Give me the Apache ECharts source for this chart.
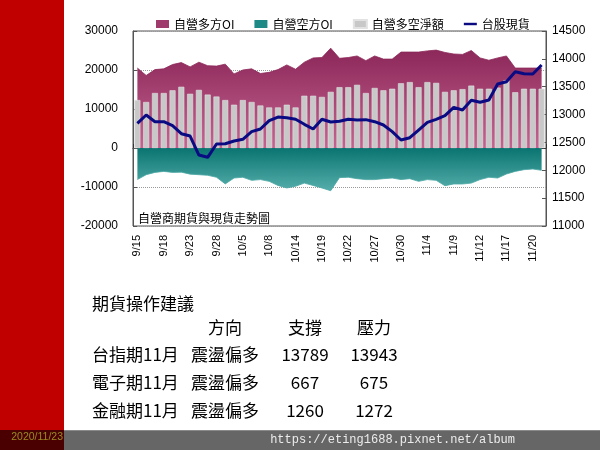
<!DOCTYPE html>
<html>
<head>
<meta charset="utf-8">
<script src="https://cdn.jsdelivr.net/npm/echarts@6/dist/echarts.min.js"></script>
<style>
html,body{margin:0;padding:0;background:#fff;}
#c{width:600px;height:450px;}
</style>
</head>
<body>
<div id="c"></div>
<script>
// ---- data ----
var dates = ['9/15','9/16','9/17','9/18','9/21','9/22','9/23','9/24','9/25','9/28','9/29','9/30',
  '10/5','10/6','10/7','10/8','10/12','10/13','10/14','10/15','10/16','10/19','10/20','10/21','10/22','10/23',
  '10/26','10/27','10/28','10/29','10/30','11/2','11/3','11/4','11/5','11/6','11/9','11/10','11/11','11/12','11/13',
  '11/16','11/17','11/18','11/19','11/20','11/23'];
var longOI = [20500,18600,20100,20300,21400,21900,20800,22000,21100,21000,21500,19000,
  20000,20300,19100,19400,20100,21300,20200,22000,23100,23200,25600,23000,23200,23600,
  22400,23600,22800,22800,24600,24600,24600,24900,25100,24500,24100,24000,25000,23100,22500,
  23100,23600,20500,20500,20500,20500];
var shortOI = [-8100,-6850,-6250,-6000,-6250,-6200,-6700,-6850,-7000,-7500,-9200,-7700,
  -7500,-8300,-8100,-8550,-9600,-10250,-9800,-9000,-9600,-10250,-10950,-7600,-7500,-7870,
  -8100,-8100,-7870,-7700,-8100,-7870,-8550,-8100,-8300,-9670,-9230,-9230,-9000,-8100,-7500,
  -7700,-6670,-6000,-5560,-5390,-5730];
var netOI = [12300,11800,14100,14100,14800,15700,13900,14900,13700,13200,12300,11100,
  12300,11800,10900,10400,10400,11100,10400,13400,13400,13100,14400,15600,15600,16200,
  14100,15400,14800,15200,16600,16900,15600,16900,16700,14400,14800,15100,16000,15200,15200,
  15500,17400,14300,15200,15200,15200];
var taiex = [12843,12992,12872,12872,12800,12657,12615,12274,12233,12472,12477,12526,
  12556,12693,12741,12890,12956,12944,12915,12825,12741,12915,12867,12879,12915,12903,
  12909,12872,12813,12693,12544,12585,12723,12861,12915,12980,13130,13082,13256,13220,13261,
  13549,13590,13770,13734,13728,13890];
var seriesNames = ['自營多方OI','自營空方OI','自營多空淨額','台股現貨'];
var chartNote = '自營商期貨與現貨走勢圖';
var adviceTitle = '期貨操作建議';
var adviceHeader = ['方向','支撐','壓力'];
var adviceRows = [
  ['台指期11月','震盪偏多','13789','13943'],
  ['電子期11月','震盪偏多','667','675'],
  ['金融期11月','震盪偏多','1260','1272']
];
var dateStamp = '2020/11/23';
var siteUrl = 'https://eting1688.pixnet.net/album';

// ---- chart ----
var chart = echarts.init(document.getElementById('c'), null, {renderer:'canvas'});
var cjk = '"Noto Sans CJK TC","Noto Sans CJK SC",sans-serif';
var num = '"Liberation Sans","DejaVu Sans",sans-serif';
function plain(v){ return String(v); }

var graphics = [
  {type:'rect', shape:{x:0,y:0,width:64,height:430}, style:{fill:'#c00000'}, silent:true, z:-10},
  {type:'rect', shape:{x:0,y:430,width:64,height:20}, style:{fill:'#4a0000'}, silent:true, z:-10},
  {type:'rect', shape:{x:64,y:430,width:536,height:20}, style:{fill:'#666666'}, silent:true, z:-10},
  {type:'rect', shape:{x:64,y:430,width:536,height:1}, style:{fill:'#8a8a8a'}, silent:true, z:-9},
  {type:'text', x:63, y:437, style:{text:dateStamp, font:'10.5px '+num, fill:'#9a8a22', textAlign:'right', textVerticalAlign:'middle', align:'right', verticalAlign:'middle'}},
  {type:'text', x:515, y:440, style:{text:siteUrl, font:'12px "Liberation Mono","DejaVu Sans Mono",monospace', fill:'#ececec', textAlign:'right', textVerticalAlign:'middle', align:'right', verticalAlign:'middle'}},
  {type:'text', x:138, y:218, z:100, style:{text:chartNote, font:'12px '+cjk, fill:'#000', textAlign:'left', textVerticalAlign:'middle', align:'left', verticalAlign:'middle'}},
  {type:'text', x:92, y:304, style:{text:adviceTitle, font:'17px '+cjk, fill:'#000', textAlign:'left', textVerticalAlign:'middle', align:'left', verticalAlign:'middle'}}
];
var colX = [225, 305, 374];
adviceHeader.forEach(function(h, i){
  graphics.push({type:'text', x:colX[i], y:328, style:{text:h, font:'17px '+cjk, fill:'#000', textAlign:'center', textVerticalAlign:'middle', align:'center', verticalAlign:'middle'}});
});
adviceRows.forEach(function(r, j){
  var yy = 355 + j*28;
  graphics.push({type:'text', x:92, y:yy, style:{text:r[0], font:'17px '+cjk, fill:'#000', textAlign:'left', textVerticalAlign:'middle', align:'left', verticalAlign:'middle'}});
  for (var k=1;k<4;k++){
    graphics.push({type:'text', x:colX[k-1], y:yy, style:{text:r[k], font:'17px '+cjk, fill:'#000', textAlign:'center', textVerticalAlign:'middle', align:'center', verticalAlign:'middle'}});
  }
});

var option = {
  backgroundColor:'#ffffff',
  animation:false,
  textStyle:{fontFamily:cjk},
  legend:{
    left:151, top:13, itemGap:20, itemWidth:13, itemHeight:8,
    textStyle:{fontSize:12, color:'#000', fontFamily:cjk},
    data:[
      {name:seriesNames[0], icon:'rect'},
      {name:seriesNames[1], icon:'rect'},
      {name:seriesNames[2], icon:'rect'},
      {name:seriesNames[3], icon:'path://M0,0 L16,0 L16,3 L0,3 Z'}
    ]
  },
  grid:{left:133, top:31, width:413, height:195, show:true, backgroundColor:'#fff', borderColor:'#555', borderWidth:1},
  xAxis:[
    {type:'category', data:dates, boundaryGap:true, position:'bottom',
     axisLine:{show:false, onZero:false}, axisTick:{show:false},
     axisLabel:{interval:2, rotate:90, margin:9, fontSize:11, color:'#000', fontFamily:num}},
    {type:'category', data:dates, boundaryGap:true, position:'bottom',
     axisLine:{show:true, onZero:true, onZeroAxisIndex:0, lineStyle:{color:'#333', width:1}},
     axisTick:{show:true, inside:true, length:4, lineStyle:{color:'#333'}},
     axisLabel:{show:false}, splitLine:{show:false}}
  ],
  yAxis:[
    {type:'value', min:-20000, max:30000, interval:10000, position:'left',
     axisLine:{show:true, lineStyle:{color:'#555'}},
     axisTick:{show:true, inside:true, length:4, lineStyle:{color:'#555'}},
     axisLabel:{margin:15, fontSize:12, color:'#000', fontFamily:num, formatter:plain},
     splitLine:{show:true, lineStyle:{type:'dotted', color:'#999'}}},
    {type:'value', min:11000, max:14500, interval:500, position:'right',
     axisLine:{show:true, lineStyle:{color:'#555'}},
     axisTick:{show:true, inside:true, length:4, lineStyle:{color:'#555'}},
     axisLabel:{margin:6, fontSize:12, color:'#000', fontFamily:num, formatter:plain},
     splitLine:{show:false}}
  ],
  series:[
    {name:seriesNames[0], type:'line', data:longOI, xAxisIndex:0, yAxisIndex:0, z:1,
     showSymbol:false, symbol:'none', lineStyle:{width:0.8, color:'#8a2758'},
     itemStyle:{color:'#9e3a6c'},
     areaStyle:{opacity:1, color:new echarts.graphic.LinearGradient(0,0,0,1,[{offset:0,color:'#8b2759'},{offset:1,color:'#c4638f'}])}},
    {name:seriesNames[1], type:'line', data:shortOI, xAxisIndex:0, yAxisIndex:0, z:1,
     showSymbol:false, symbol:'none', lineStyle:{width:0.8, color:'#4aa6a3'},
     itemStyle:{color:'#1e8a86'},
     areaStyle:{opacity:1, color:new echarts.graphic.LinearGradient(0,0,0,1,[{offset:0,color:'#0a7470'},{offset:1,color:'#55aeab'}])}},
    {name:seriesNames[2], type:'bar', data:netOI, xAxisIndex:0, yAxisIndex:0, z:2,
     barWidth:6, itemStyle:{color:'#c8c8c8', borderColor:'#e2e2e2', borderWidth:0.6}},
    {name:seriesNames[3], type:'line', data:taiex, xAxisIndex:0, yAxisIndex:1, z:3,
     showSymbol:false, symbol:'none', lineStyle:{width:3, color:'#0a0a82'}, itemStyle:{color:'#0a0a82'}}
  ],
  graphic:graphics
};
chart.setOption(option);
</script>
</body>
</html>
